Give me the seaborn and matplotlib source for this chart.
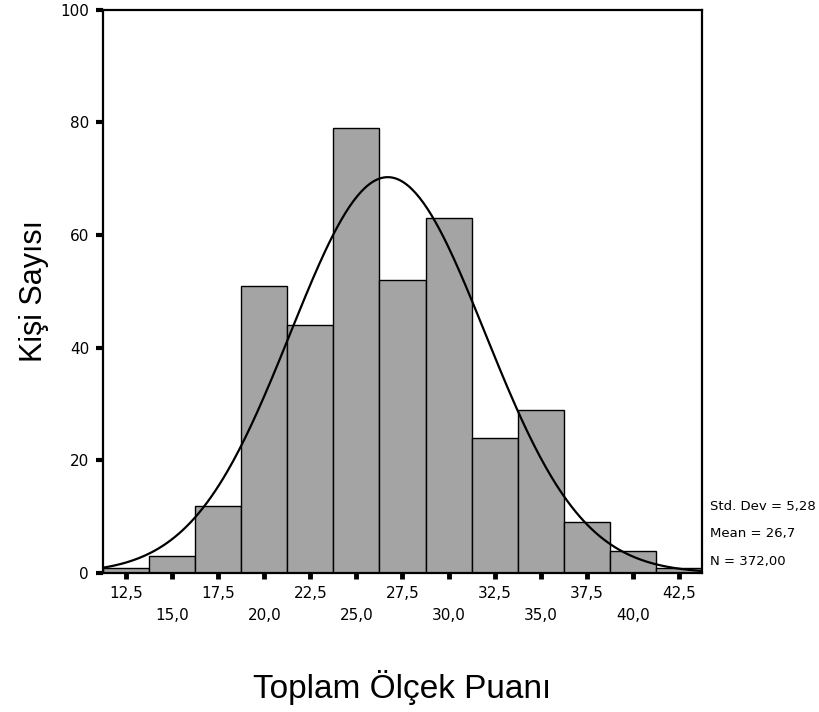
import numpy as np
import pandas as pd
import matplotlib
matplotlib.use("Agg")
import matplotlib.pyplot as plt
import seaborn as sns

# ── veriler ─────────────────────────────────────────────────────────────
bin_centers = [12.5, 15.0, 17.5, 20.0, 22.5, 25.0, 27.5, 30.0, 32.5, 35.0, 37.5, 40.0, 42.5]
counts = [1, 3, 12, 51, 44, 79, 52, 63, 24, 29, 9, 4, 1]
tick_labels = ["12,5", "15,0", "17,5", "20,0", "22,5", "25,0", "27,5",
               "30,0", "32,5", "35,0", "37,5", "40,0", "42,5"]
y_ticks = [0, 20, 40, 60, 80, 100]
std_dev = 5.28
mean = 26.7
n_total = 372
bin_width = 2.5

sns.set_theme(style="white")
plt.rcParams["font.family"] = ["DejaVu Sans"]
plt.rcParams["text.color"] = "black"
plt.rcParams["axes.labelcolor"] = "black"
plt.rcParams["xtick.color"] = "black"
plt.rcParams["ytick.color"] = "black"

df = pd.DataFrame({"puan": bin_centers, "kisi": counts})

fig = plt.figure(figsize=(8.2, 7.12), dpi=100)
ax = fig.add_axes([0.1256, 0.195, 0.7305, 0.7915])

sns.histplot(data=df, x="puan", weights="kisi", binwidth=bin_width,
             binrange=(bin_centers[0] - bin_width / 2, bin_centers[-1] + bin_width / 2),
             color="#a4a4a4", edgecolor="black", linewidth=1.0, alpha=1, ax=ax)

# normal eğri
xs = np.linspace(bin_centers[0] - bin_width / 2, bin_centers[-1] + bin_width / 2, 300)
ys = n_total * bin_width / (std_dev * np.sqrt(2 * np.pi)) * np.exp(-0.5 * ((xs - mean) / std_dev) ** 2)
sns.lineplot(x=xs, y=ys, color="black", linewidth=1.6, ax=ax)

ax.set_xlim(bin_centers[0] - bin_width / 2, bin_centers[-1] + bin_width / 2)
ax.set_ylim(0, 100)

ax.set_xticks(bin_centers)
ax.set_xticklabels([lab if i % 2 == 0 else "\n" + lab for i, lab in enumerate(tick_labels)],
                   fontsize=11, linespacing=1.6)
ax.set_yticks(y_ticks)
ax.set_yticklabels([str(v) for v in y_ticks], fontsize=11)
ax.tick_params(axis="x", bottom=True, direction="out", length=4, width=3.5, color="black", pad=5)
ax.tick_params(axis="y", left=True, direction="out", length=5, width=3, color="black", pad=5)

for sp in ax.spines.values():
    sp.set_color("black")
    sp.set_linewidth(1.6)

ax.set_xlabel("Toplam Ölçek Puanı", fontsize=24, family="Liberation Sans", labelpad=34)
ax.set_ylabel("Kişi Sayısı", fontsize=22, family="Liberation Sans", labelpad=8)

stats = [f"Std. Dev = {std_dev:.2f}".replace("5.28", "5,28"),
         f"Mean = {mean:.1f}".replace(".", ","),
         f"N = {n_total:.2f}".replace(".", ",")]
for i, s in enumerate(stats):
    fig.text(0.866, 0.288 - i * 0.038, s, fontsize=9.5, va="center", ha="left")

fig.savefig("out.png", dpi=100)
